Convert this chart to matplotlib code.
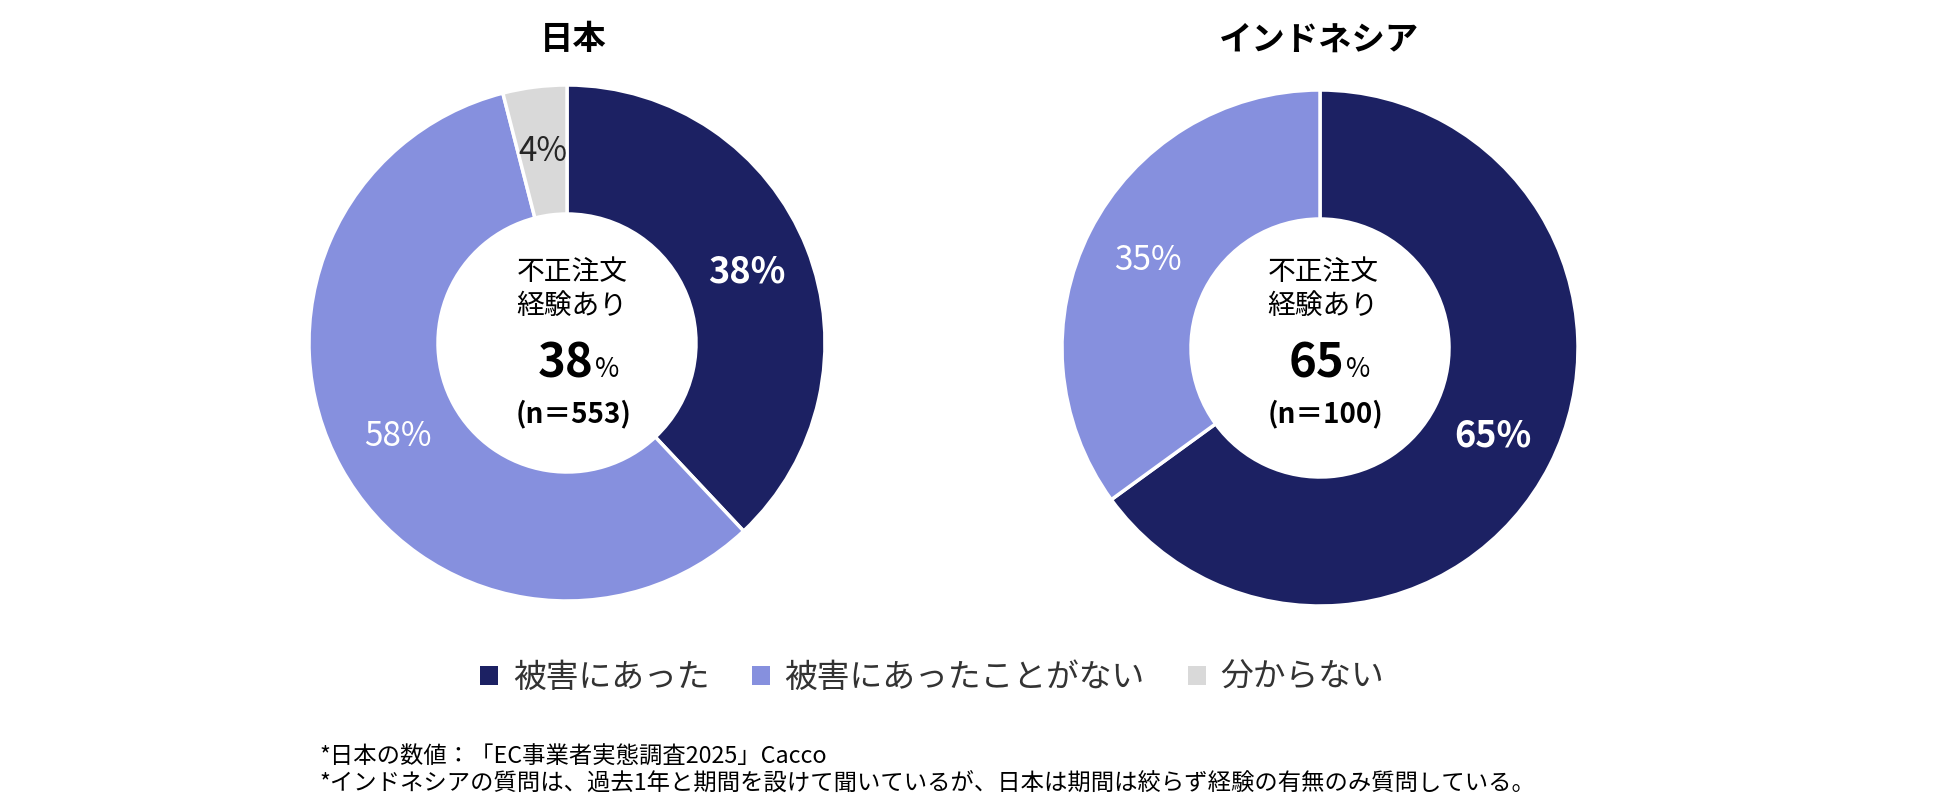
import matplotlib
matplotlib.use("Agg")
import matplotlib.pyplot as plt
from matplotlib.patches import Patch

plt.rcParams['font.family'] = ['Noto Sans CJK JP', 'DejaVu Sans']

# data
categories = ['被害にあった', '被害にあったことがない', '分からない']
colors = ['#1C2163', '#8690DE', '#D9D9D9']
countries = ['日本', 'インドネシア']
japan_values = [38, 58, 4]
india_values = [65, 35]
sample_sizes = [553, 100]
center_label = '不正注文\n経験あり'
footnotes = ['*日本の数値：「EC事業者実態調査2025」Cacco',
             '*インドネシアの質問は、過去1年と期間を設けて聞いているが、日本は期間は絞らず経験の有無のみ質問している。']

W, H = 1950, 809
fig = plt.figure(figsize=(W / 100, H / 100), dpi=100)


def fx(x):
    return x / W


def fy(y):
    return 1 - y / H


R = 258
centers = [(567, 343), (1320, 348)]
title_x = [573, 1319]
text_x = [572, 1323]
all_values = [japan_values, india_values]

for (cx, cy), tx, lx, name, vals, n in zip(centers, title_x, text_x, countries,
                                           all_values, sample_sizes):
    ax = fig.add_axes([fx(cx - R), fy(cy + R), 2 * R / W, 2 * R / H])
    wedges, texts, autotexts = ax.pie(
        vals, colors=colors[:len(vals)], startangle=90, counterclock=False,
        radius=1, pctdistance=0.75,
        autopct=lambda p: f'{p:.0f}%',
        wedgeprops=dict(width=0.5, edgecolor='white', linewidth=2.5),
        textprops=dict(fontsize=24))
    ax.set_xlim(-1, 1)
    ax.set_ylim(-1, 1)
    for i, t in enumerate(autotexts):
        if i == 0:
            t.set_color('white')
            t.set_fontweight('bold')
            t.set_fontsize(26)
        elif i == 1:
            t.set_color('white')
        else:
            t.set_color('#262626')

    # title
    fig.text(fx(tx), fy(40), name, ha='center', va='center',
             fontsize=24, fontweight='bold', color='black')

    # center text
    fig.text(fx(lx), fy(289), center_label, ha='center', va='center',
             fontsize=20, linespacing=1.15, color='black')
    fig.text(fx(lx + 21), fy(377), f'{vals[0]}', ha='right', va='baseline',
             fontsize=34, fontweight='bold', color='black')
    fig.text(fx(lx + 23), fy(377), '%', ha='left', va='baseline',
             fontsize=19, color='black')
    fig.text(fx(lx + 2), fy(414), f'(n＝{n})', ha='center', va='center',
             fontsize=20, fontweight='bold', color='black')

handles = [Patch(facecolor=c, edgecolor='none') for c in colors]
fig.legend(handles, categories, loc='center', bbox_to_anchor=(fx(932), fy(678)),
           ncol=3, frameon=False, fontsize=23.6, labelcolor='#333333',
           handlelength=0.55, handleheight=0.55, handletextpad=0.45,
           columnspacing=1.3)

fig.text(fx(319), fy(757), footnotes[0], ha='left', va='center', fontsize=16.8, color='black')
fig.text(fx(319), fy(783), footnotes[1], ha='left', va='center', fontsize=16.8, color='black')

fig.savefig('out.png', dpi=100, facecolor='white')
